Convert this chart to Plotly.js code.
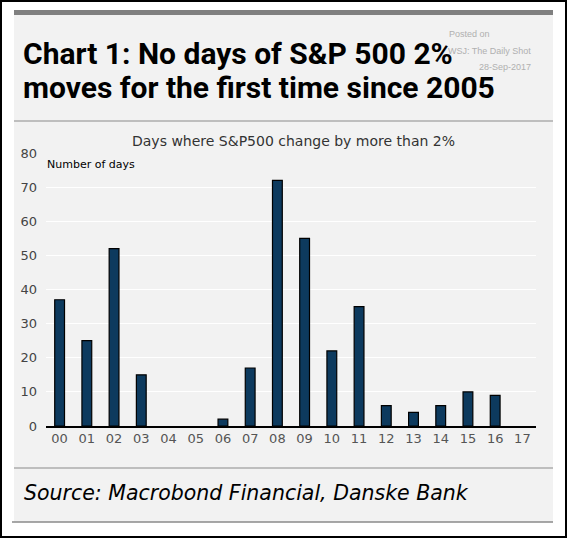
<!DOCTYPE html>
<html><head><meta charset="utf-8">
<script src="https://cdn.plot.ly/plotly-3.0.1.min.js"></script>
<style>html,body{margin:0;padding:0;background:#fff}</style>
</head><body><div id="chart" style="width:567px;height:538px"></div>
<script>
const years = ['00','01','02','03','04','05','06','07','08','09','10','11','12','13','14','15','16','17'];
const days  = [37, 25, 52, 15, 0, 0, 2, 17, 72, 55, 22, 35, 6, 4, 6, 10, 9, 0];
const yTicks = [0,10,20,30,40,50,60,70,80];

const W=567,H=538,L=46,R=31,T=153,B=112;
const pw=W-L-R, ph=H-T-B;
const px=x=>(x-L)/pw, py=y=>(H-B-y)/ph;

const shapes=[
  {type:'rect',xref:'paper',yref:'paper',x0:px(14),x1:px(553),y0:py(522),y1:py(14),fillcolor:'#f2f2f2',line:{width:0},layer:'below'},
  {type:'rect',xref:'paper',yref:'paper',x0:px(14),x1:px(553),y0:py(15),y1:py(10),fillcolor:'#808080',line:{width:0},layer:'below'},
  {type:'line',xref:'paper',yref:'paper',x0:px(14),x1:px(553),y0:py(121),y1:py(121),line:{color:'#8a8a8a',width:1}},
  {type:'line',xref:'paper',yref:'paper',x0:px(14),x1:px(553),y0:py(468),y1:py(468),line:{color:'#8a8a8a',width:1}},
  {type:'line',xref:'paper',yref:'paper',x0:px(12),x1:px(553),y0:py(522),y1:py(522),line:{color:'#8a8a8a',width:1.5}},
  {type:'rect',xref:'paper',yref:'paper',x0:px(1),x1:px(566),y0:py(537),y1:py(1),line:{color:'#000',width:2}}
];
const ann=(t,x,y,o)=>Object.assign({text:t,xref:'paper',yref:'paper',x:px(x),y:py(y),showarrow:false,xanchor:'left',yanchor:'middle'},o);
const annotations=[
  ann('<b>Chart 1: No days of S&amp;P 500 2%</b>',21,54,{font:{family:'Roboto',size:30,color:'#000'}}),
  ann('<b>moves for the first time since 2005</b>',21,88,{font:{family:'Roboto',size:30,color:'#000'}}),
  ann('Posted on',492,34,{xanchor:'right',font:{family:'Liberation Sans',size:9,color:'#b0b0b0'}}),
  ann('WSJ: The Daily Shot',533,51,{xanchor:'right',font:{family:'Liberation Sans',size:9,color:'#b0b0b0'}}),
  ann('28-Sep-2017',533,67,{xanchor:'right',font:{family:'Liberation Sans',size:9,color:'#b0b0b0'}}),
  ann('Days where S&amp;P500 change by more than 2%',293,141,{xanchor:'center',font:{family:'DejaVu Sans',size:14,color:'#333'}}),
  ann('Number of days',45,164,{font:{family:'DejaVu Sans',size:11,color:'#000'}}),
  ann('<i>Source: Macrobond Financial, Danske Bank</i>',22,493,{font:{family:'DejaVu Sans',size:20.5,color:'#000'}})
];

Plotly.newPlot('chart',[{
  type:'bar',x:years,y:days,width:0.36,
  marker:{color:'#0d3a5e',line:{color:'#000',width:days.map(v=>v>0?1.2:0)}},hoverinfo:'x+y'
}],{
  width:W,height:H,margin:{l:L,r:R,t:T,b:B},
  paper_bgcolor:'rgba(0,0,0,0)',plot_bgcolor:'rgba(0,0,0,0)',
  showlegend:false,
  xaxis:{type:'category',range:[-0.5,17.5],showgrid:false,showline:true,linecolor:'#000',linewidth:1.5,
    ticks:'',tickfont:{family:'DejaVu Sans',size:13,color:'#555'},fixedrange:true},
  yaxis:{range:[0,80],tickvals:yTicks,showgrid:true,gridcolor:'#ffffff',gridwidth:1,zeroline:false,
    ticks:'',ticklabelstandoff:8,tickfont:{family:'DejaVu Sans',size:13,color:'#444'},fixedrange:true},
  shapes:shapes,annotations:annotations
},{displayModeBar:false,staticPlot:true});
</script></body></html>
